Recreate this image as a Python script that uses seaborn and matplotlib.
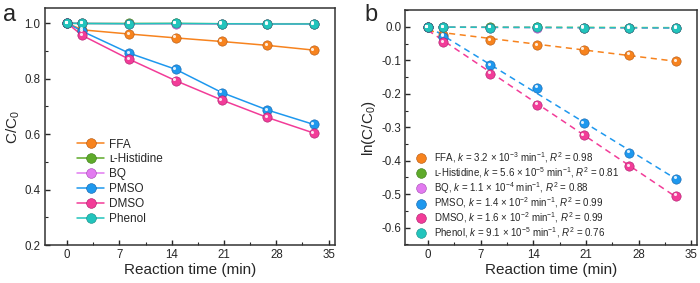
import numpy as np
import pandas as pd
import matplotlib
matplotlib.use('Agg')
import matplotlib.pyplot as plt
import matplotlib.transforms as mtransforms
from matplotlib.lines import Line2D
from matplotlib.ticker import MultipleLocator
import seaborn as sns

# ---- data ----
time = [0, 2, 8.3, 14.5, 20.7, 26.8, 33]
agents = ['FFA', 'ʟ-Histidine', 'BQ', 'PMSO', 'DMSO', 'Phenol']
ffa = [1.0, 0.976, 0.961, 0.947, 0.934, 0.920, 0.903]
histidine = [1.0, 0.999, 0.999, 0.999, 0.998, 0.998, 0.998]
bq = [1.0, 0.999, 0.998, 0.998, 0.997, 0.997, 0.996]
pmso = [1.0, 0.971, 0.892, 0.834, 0.750, 0.687, 0.635]
dmso = [1.0, 0.956, 0.870, 0.793, 0.723, 0.660, 0.604]
phenol = [1.0, 0.999, 0.998, 0.999, 0.998, 0.997, 0.997]
k_text = [r'3.2 × 10$^{-3}$', r'5.6 × 10$^{-5}$', r'1.1 × 10$^{-4}$',
          r'1.4 × 10$^{-2}$', r'1.6 × 10$^{-2}$', r'9.1 × 10$^{-5}$']
r2_text = ['0.98', '0.81', '0.88', '0.99', '0.99', '0.76']

colors = ['#F7831E', '#5EAA2A', '#E27AF0', '#1E98EE', '#F23C98', '#22C4BC']
edges = ['#B0520A', '#3A7A16', '#A044B0', '#0F5FA8', '#A8186A', '#118A84']

series = [ffa, histidine, bq, pmso, dmso, phenol]
df = pd.concat([pd.DataFrame({'t': time, 'c': s, 'agent': a})
                for a, s in zip(agents, series)], ignore_index=True)
df['lnc'] = np.log(df['c'])

sns.set_style('ticks')
plt.rcParams['font.family'] = ['Liberation Sans', 'DejaVu Sans']
plt.rcParams['mathtext.fontset'] = 'custom'
plt.rcParams['mathtext.rm'] = 'Liberation Sans'
plt.rcParams['mathtext.it'] = 'Liberation Sans:italic'
plt.rcParams['axes.unicode_minus'] = False

fig = plt.figure(figsize=(7, 2.83), dpi=100)
ax1 = fig.add_axes([0.064, 0.134, 0.414, 0.836])
ax2 = fig.add_axes([0.579, 0.134, 0.417, 0.830])


def balls(ax, d, color, edge):
    sns.scatterplot(data=d, x='t', y=d.columns[1], ax=ax, color=color, s=45,
                    edgecolor=edge, linewidth=0.4, zorder=3, legend=False)
    tr = mtransforms.offset_copy(ax.transData, fig=fig, x=-1.4, y=1.4, units='dots')
    ax.scatter(d['t'], d.iloc[:, 1], s=5, color='white', alpha=0.85, lw=0,
               transform=tr, zorder=4)


# panel a
for a, c, e in zip(agents, colors, edges):
    d = df[df['agent'] == a]
    sns.lineplot(data=d, x='t', y='c', ax=ax1, color=c, lw=1.1, zorder=2, legend=False)
    balls(ax1, d[['t', 'c']], c, e)

# panel b
for a, c, e in zip(agents, colors, edges):
    d = df[df['agent'] == a]
    sns.regplot(data=d, x='t', y='lnc', ax=ax2, scatter=False, ci=None,
                line_kws=dict(color=c, lw=1.1, ls=(0, (4, 3)), zorder=2))
    balls(ax2, d[['t', 'lnc']], c, e)

for ax in (ax1, ax2):
    ax.set_xlim(-3, 35.8)
    ax.xaxis.set_major_locator(MultipleLocator(7))
    ax.xaxis.set_minor_locator(MultipleLocator(3.5))
    ax.set_xlabel('Reaction time (min)', fontsize=11, labelpad=1)
    ax.tick_params(which='both', direction='in', labelsize=8.3, pad=3)
    ax.tick_params(which='major', length=3.5, width=1)
    ax.tick_params(which='minor', length=2, width=0.8)
    for sp in ax.spines.values():
        sp.set_linewidth(1.1)
        sp.set_color('#333333')

ax1.set_ylim(0.2, 1.053)
ax1.yaxis.set_major_locator(MultipleLocator(0.2))
ax1.yaxis.set_minor_locator(MultipleLocator(0.1))
ax1.set_ylabel(r'C/C$_0$', fontsize=11, labelpad=2)

ax2.set_ylim(-0.652, 0.05)
ax2.yaxis.set_major_locator(MultipleLocator(0.1))
ax2.yaxis.set_minor_locator(MultipleLocator(0.05))
ax2.yaxis.set_major_formatter(plt.FuncFormatter(lambda v, p: f'{v:.1f}'.replace('-0.0', '0.0')))
ax2.set_ylabel(r'ln(C/C$_0$)', fontsize=11, labelpad=2)

h1 = [Line2D([], [], color=c, marker='o', markersize=7, mec=e, mew=0.4, lw=1.1)
      for c, e in zip(colors, edges)]
ax1.legend(h1, agents, loc='lower left', bbox_to_anchor=(0.095, 0.066), frameon=False,
           fontsize=8.5, handlelength=2.3, handletextpad=0.4, labelspacing=0.24,
           borderaxespad=0)

labels_b = [rf'{a}, $\mathit{{k}}$ = {k} min$^{{-1}}$, $\mathit{{R}}^2$ = {r}'
            for a, k, r in zip(agents, k_text, r2_text)]
h2 = [Line2D([], [], color=c, marker='o', markersize=7, mec=e, mew=0.4, lw=0)
      for c, e in zip(colors, edges)]
ax2.legend(h2, labels_b, loc='lower left', bbox_to_anchor=(0.025, 0.005), frameon=False,
           fontsize=7.0, handlelength=1.0, handletextpad=0.75, labelspacing=0.0,
           borderaxespad=0)

fig.text(0.005, 0.985, 'a', fontsize=17, va='top', ha='left')
fig.text(0.52, 0.985, 'b', fontsize=17, va='top', ha='left')

fig.savefig('out.png', dpi=100)
